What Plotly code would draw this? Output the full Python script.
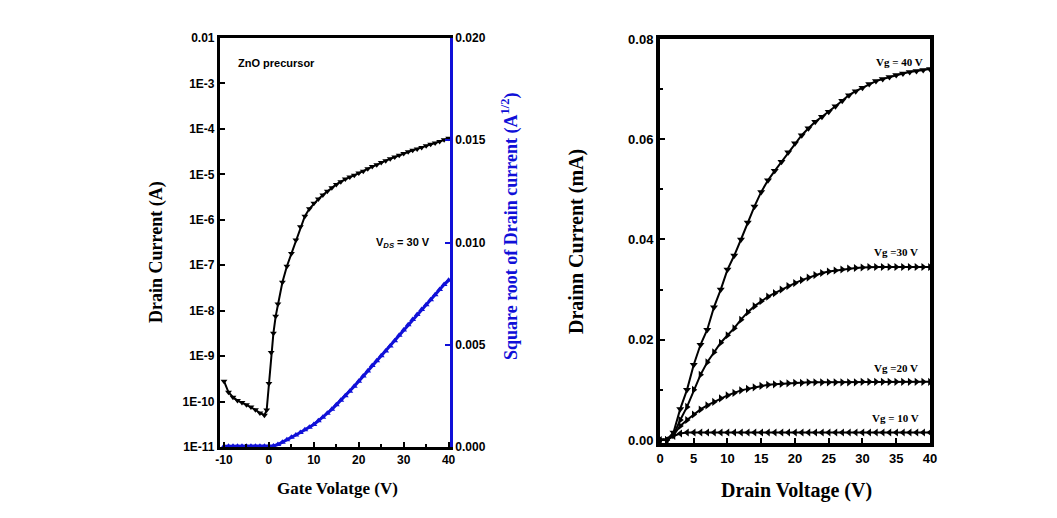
import plotly.graph_objects as go

# ---------------- Left panel data (transfer curve) ----------------
gate_v = [-10, -9, -8, -7, -6, -5, -4, -3, -2, -1, -0.5, 0, 0.5, 1, 1.5, 2, 3, 4, 5, 6, 7, 8, 9,
          10, 11, 12, 13, 14, 15, 16, 17, 18, 19, 20, 21, 22, 23, 24, 25, 26, 27, 28, 29,
          30, 31, 32, 33, 34, 35, 36, 37, 38, 39, 40]
drain_current = [2.8e-10, 1.6e-10, 1.25e-10, 1.05e-10, 9.5e-11, 8.5e-11, 7.6e-11, 6.6e-11, 5.6e-11,
                 5.0e-11, 6.5e-11, 2.5e-10, 1.2e-9, 3.2e-9, 7.5e-9, 1.4e-8, 4.2e-8, 9.5e-8, 1.8e-7,
                 3.6e-7, 7.0e-7, 1.2e-6, 1.75e-6, 2.3e-6, 2.85e-6, 3.5e-6, 4.25e-6, 5.1e-6, 6.0e-6,
                 6.9e-6, 7.9e-6, 8.7e-6, 9.5e-6, 1.07e-5, 1.17e-5, 1.32e-5, 1.48e-5, 1.62e-5,
                 1.82e-5, 2.0e-5, 2.19e-5, 2.4e-5, 2.63e-5, 2.88e-5, 3.16e-5, 3.39e-5, 3.63e-5,
                 3.89e-5, 4.27e-5, 4.57e-5, 4.9e-5, 5.25e-5, 5.75e-5, 6.2e-5]

gate_v_sqrt = list(range(-10, 41))
sqrt_current = [0.00003, 0.00003, 0.00003, 0.00003, 0.00003, 0.00003, 0.00003, 0.00003, 0.00003,
                0.00003, 0.00003, 0.00005, 0.00012, 0.00023, 0.00035, 0.00047, 0.00058, 0.00071,
                0.00084, 0.00097, 0.00110, 0.00128, 0.00146, 0.00165, 0.00184, 0.00206, 0.00228,
                0.00250, 0.00273, 0.00297, 0.00322, 0.00347, 0.00372, 0.00398, 0.00422, 0.00446,
                0.00470, 0.00494, 0.00520, 0.00546, 0.00572, 0.00598, 0.00624, 0.00648, 0.00672,
                0.00696, 0.00720, 0.00745, 0.00770, 0.00794, 0.00815]

log_tick_vals = [1e-11, 1e-10, 1e-9, 1e-8, 1e-7, 1e-6, 1e-5, 1e-4, 1e-3, 1e-2]
log_tick_text = ["1E-11", "1E-10", "1E-9", "1E-8", "1E-7", "1E-6", "1E-5", "1E-4", "1E-3", "0.01"]
gate_tick_vals = [-10, 0, 10, 20, 30, 40]
gate_tick_text = ["-10", "0", "10", "20", "30", "40"]

# ---------------- Right panel data (output curves) ----------------
drain_v = list(range(0, 41))
id_vg40 = [0, 0, 0.0015, 0.0062, 0.0100, 0.0150, 0.0190, 0.0220, 0.0265, 0.0300, 0.0340, 0.0368,
           0.0400, 0.0434, 0.0466, 0.0495, 0.0518, 0.0537, 0.0555, 0.0574, 0.0592, 0.0608, 0.0622,
           0.0635, 0.0645, 0.0655, 0.0666, 0.0677, 0.0688, 0.0696, 0.0703, 0.0710, 0.0716, 0.0720,
           0.0724, 0.0728, 0.0731, 0.0734, 0.0736, 0.0738, 0.0740]
id_vg30 = [0, 0, 0.0010, 0.0040, 0.0066, 0.0100, 0.0130, 0.0155, 0.0175, 0.0194, 0.0209, 0.0223,
           0.0240, 0.0255, 0.0267, 0.0277, 0.0286, 0.0293, 0.0300, 0.0307, 0.0313, 0.0319, 0.0324,
           0.0329, 0.0333, 0.0336, 0.0338, 0.0340, 0.0342, 0.0343, 0.0344, 0.0345, 0.0345, 0.0345,
           0.0345, 0.0345, 0.0345, 0.0345, 0.0345, 0.0345, 0.0345]
id_vg20 = [0, 0, 0.0010, 0.0028, 0.0040, 0.0051, 0.0061, 0.0069, 0.0076, 0.0083, 0.0089, 0.0094,
           0.0099, 0.0102, 0.0105, 0.0108, 0.0110, 0.0111, 0.0112, 0.0113, 0.0114, 0.0114, 0.0115,
           0.0115, 0.0115, 0.0115, 0.0115, 0.0115, 0.0115, 0.0115, 0.0116, 0.0116, 0.0116, 0.0116,
           0.0116, 0.0116, 0.0116, 0.0116, 0.0116, 0.0116, 0.0116]
id_vg10 = [0, 0, 0.0008, 0.0013, 0.0015, 0.0015, 0.0015, 0.0015, 0.0015, 0.0015, 0.0015, 0.0015,
           0.0015, 0.0015, 0.0015, 0.0015, 0.0015, 0.0015, 0.0015, 0.0015, 0.0015, 0.0015, 0.0015,
           0.0015, 0.0015, 0.0015, 0.0015, 0.0015, 0.0015, 0.0015, 0.0015, 0.0015, 0.0015, 0.0015,
           0.0015, 0.0015, 0.0015, 0.0015, 0.0015, 0.0015, 0.0015]

BLUE = "#1010d8"
SANS = "Liberation Sans"
SERIF = "Liberation Serif"

fig = go.Figure()

fig.add_trace(go.Scatter(x=gate_v, y=drain_current, mode="lines+markers",
                         line=dict(color="black", width=2),
                         marker=dict(symbol="triangle-down", size=6, color="black"),
                         xaxis="x", yaxis="y", showlegend=False))
fig.add_trace(go.Scatter(x=gate_v_sqrt, y=sqrt_current, mode="lines+markers",
                         line=dict(color=BLUE, width=3),
                         marker=dict(symbol="triangle-up", size=6, color=BLUE),
                         xaxis="x", yaxis="y2", showlegend=False))

for ys, sym in [(id_vg40, "triangle-down"), (id_vg30, "triangle-right"),
                (id_vg20, "triangle-right"), (id_vg10, "triangle-left")]:
    fig.add_trace(go.Scatter(x=drain_v, y=ys, mode="lines+markers",
                             line=dict(color="black", width=2),
                             marker=dict(symbol=sym, size=7, color="black"),
                             xaxis="x3", yaxis="y3", showlegend=False))

tickfont_l = dict(family=SANS, size=12, color="black", weight="bold")
tickfont_r = dict(family=SANS, size=13, color="black", weight="bold")

fig.update_layout(
    width=1057, height=518, autosize=False,
    margin=dict(l=0, r=0, t=0, b=0, pad=0),
    paper_bgcolor="white", plot_bgcolor="white",
    xaxis=dict(domain=[0.2081, 0.4257], range=[-10.9, 40.3], tickvals=gate_tick_vals,
               ticktext=gate_tick_text,
               ticks="inside", ticklen=5, tickwidth=2, tickcolor="black",
               minor=dict(tickvals=[-5, 5, 15, 25, 35], ticks="inside", ticklen=3, tickwidth=2,
                          tickcolor="black"),
               showline=True, linewidth=3, linecolor="black", mirror=True, automargin=False,
               showgrid=False, zeroline=False, tickfont=tickfont_l, anchor="y"),
    yaxis=dict(domain=[0.1371, 0.9266], type="log", range=[-11, -2], tickvals=log_tick_vals,
               ticktext=log_tick_text, ticks="inside", ticklen=5, tickwidth=2, tickcolor="black",
               showline=True, linewidth=3, linecolor="black", mirror=False, automargin=False,
               showgrid=False, zeroline=False, tickfont=tickfont_l, anchor="x"),
    yaxis2=dict(overlaying="y", side="right", anchor="x", range=[0, 0.02], dtick=0.005,
                tickformat=".3f", ticks="inside", ticklen=5, tickwidth=2, tickcolor=BLUE,
                showline=True, linewidth=3, linecolor=BLUE, showgrid=False, zeroline=False,
                automargin=False, tickfont=tickfont_l),
    xaxis3=dict(domain=[0.6244, 0.8798], range=[0, 40], dtick=5, ticks="inside", ticklen=5,
                tickwidth=2, tickcolor="black", showline=True, linewidth=4, linecolor="black",
                mirror=True, showgrid=False, zeroline=False, tickfont=tickfont_r, anchor="y3",
                automargin=False),
    yaxis3=dict(domain=[0.1448, 0.9247], range=[-0.0006, 0.08], tickvals=[0, 0.02, 0.04, 0.06, 0.08],
                tickformat=".2f", ticks="inside", ticklen=5, tickwidth=2, tickcolor="black",
                minor=dict(tickvals=[0.01, 0.03, 0.05, 0.07], ticks="inside", ticklen=3,
                           tickwidth=2, tickcolor="black"),
                showline=True, linewidth=4, linecolor="black", mirror=True, automargin=False,
                showgrid=False, zeroline=False, tickfont=tickfont_r, anchor="x3"),
)

def px_x(p):
    return p / 1057.0

def px_y(p):
    return 1 - p / 518.0

annotations = [
    # axis titles
    dict(text="<b>Drain Current (A)</b>", x=px_x(156), y=px_y(252), textangle=-90,
         font=dict(family=SERIF, size=18, color="black")),
    dict(text="<b>Square root of Drain current (A<sup>1/2</sup>)</b>", x=px_x(510), y=px_y(226),
         textangle=-90, font=dict(family=SERIF, size=18, color=BLUE)),
    dict(text="<b>Gate Volatge (V)</b>", x=px_x(337), y=px_y(488),
         font=dict(family=SERIF, size=17, color="black")),
    dict(text="<b>Drainn Current (mA)</b>", x=px_x(577), y=px_y(242), textangle=-90,
         font=dict(family=SERIF, size=20, color="black")),
    dict(text="<b>Drain Voltage (V)</b>", x=px_x(796), y=px_y(490),
         font=dict(family=SERIF, size=20, color="black")),
    # in-plot labels
    dict(text="<b>ZnO precursor</b>", x=px_x(236), y=px_y(63), xanchor="left",
         font=dict(family=SANS, size=11, color="black")),
    dict(text="<b>V<sub><i>DS</i></sub> = 30 V</b>", x=px_x(432), y=px_y(243), xanchor="right",
         font=dict(family=SANS, size=11, color="black")),
    dict(text="<b>Vg = 40 V</b>", x=px_x(925), y=px_y(62), xanchor="right",
         font=dict(family=SERIF, size=11, color="black")),
    dict(text="<b>Vg =30 V</b>", x=px_x(920), y=px_y(252), xanchor="right",
         font=dict(family=SERIF, size=11, color="black")),
    dict(text="<b>Vg =20 V</b>", x=px_x(920), y=px_y(368), xanchor="right",
         font=dict(family=SERIF, size=11, color="black")),
    dict(text="<b>Vg = 10 V</b>", x=px_x(921), y=px_y(418), xanchor="right",
         font=dict(family=SERIF, size=11, color="black")),
]
for a in annotations:
    a.update(xref="paper", yref="paper", showarrow=False)
    a.setdefault("xanchor", "center")
    a.setdefault("yanchor", "middle")
fig.update_layout(annotations=annotations)

fig.write_html("out.html", config={"displayModeBar": False},
               post_script="document.body.style.margin='0';document.body.style.overflow='hidden';")
